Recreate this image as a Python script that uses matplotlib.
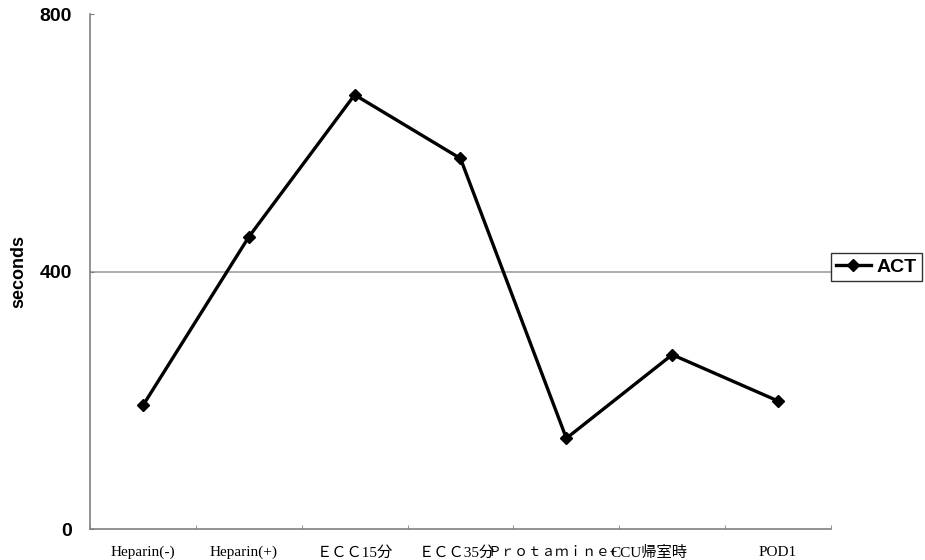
import matplotlib
matplotlib.use('Agg')
import matplotlib.pyplot as plt
import matplotlib.transforms as mtransforms
from matplotlib.lines import Line2D

# data
categories = ['Heparin(-)', 'Heparin(+)', 'ＥＣＣ15分', 'ＥＣＣ35分',
              'Ｐｒｏｔａｍｉｎｅ+', 'CCU帰室時', 'POD1']
act = [192, 454, 675, 576, 141, 271, 199]
yticks = [0, 400, 800]

# small nudges (pixels) and sizes so the crowded labels sit like the original
label_shift = [0, -5, 0, -4, -14, -23, 0]
label_size = [11, 11, 11, 11, 9.8, 11, 11]

cjk = ['Liberation Serif', 'Noto Sans CJK JP', 'DejaVu Sans']

fig = plt.figure(figsize=(9.25, 5.6), dpi=100)
ax = fig.add_axes([90/925, 1 - 529/560, (831 - 90)/925, (529 - 14.4)/560])

x = list(range(1, len(act) + 1))
ax.axhline(400, color='#a0a0a0', lw=1.2, zorder=1)
ax.plot(x, act, color='black', lw=2.4, marker='D', ms=6.5, zorder=3)

ax.set_xlim(0.5, len(act) + 0.5)
ax.set_ylim(0, 800)

# spines
for s in ['top', 'right']:
    ax.spines[s].set_visible(False)
for s in ['left', 'bottom']:
    ax.spines[s].set_color('#808080')
    ax.spines[s].set_linewidth(1.2)

# y axis
ax.set_yticks(yticks)
ax.set_yticklabels([str(v) for v in yticks], fontsize=14, fontweight='bold',
                   family='Liberation Sans')
ax.tick_params(axis='y', direction='in', length=3, color='#808080', pad=13)
ax.set_ylabel('seconds', fontsize=13, fontweight='bold', family='Liberation Sans')
ax.yaxis.set_label_coords(-0.084, 0.5)

# x axis: labels at centers, tick marks at category boundaries
ax.set_xticks(x)
ax.set_xticklabels(categories, family=cjk)
ax.tick_params(axis='x', which='major', length=0, pad=12)
ax.set_xticks([i + 0.5 for i in range(len(act) + 1)], minor=True)
ax.tick_params(axis='x', which='minor', direction='in', length=3, color='#808080')
for lab, dx, fs in zip(ax.get_xticklabels(), label_shift, label_size):
    lab.set_fontsize(fs)
    lab.set_transform(lab.get_transform() +
                      mtransforms.ScaledTranslation(dx / 100, 0, fig.dpi_scale_trans))

# legend outside on the right
handle = Line2D([], [], color='black', lw=2.4, marker='D', ms=6.5)
leg = fig.legend([handle], ['ACT'], loc='center left',
                 bbox_to_anchor=(831/925, 1 - 267/560),
                 prop={'family': 'Liberation Sans', 'weight': 'bold', 'size': 14},
                 frameon=True, fancybox=False, handlelength=1.8, handletextpad=0.3,
                 borderpad=0.25, borderaxespad=0)
leg.get_frame().set_edgecolor('black')
leg.get_frame().set_linewidth(1.0)

fig.savefig('out.png', dpi=100)
